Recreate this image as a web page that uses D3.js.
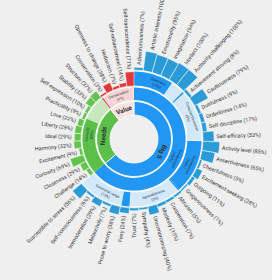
<!DOCTYPE html>
<html>
<head>
<meta charset="utf-8">
<script src="https://cdn.jsdelivr.net/npm/d3@7"></script>
<style>
html, body { margin: 0; padding: 0; background: #efefef; }
svg { display: block; font-family: Roboto, "Open Sans", sans-serif; }
</style>
</head>
<body>
<div id="chart"></div>
<script>
var sectors = ["Big 5", "Needs", "Value"];
var topItems = ["Extraversion", "Curiosity", "Conservation"];
var topPct = [100, 69, 3];

var traits = ["Openness", "Conscientiousness", "Extraversion", "Agreeableness", "Emotional range"];
var traitPct = [74, 3, 100, 3, 15];

var facets = [
    ["Adventurousness", "Artistic interests", "Emotionality", "Imagination", "Intellect", "Authority-challenging"],
    ["Achievement striving", "Cautiousness", "Dutifulness", "Orderliness", "Self-discipline", "Self-efficacy"],
    ["Activity level", "Assertiveness", "Cheerfulness", "Excitement-seeking", "Outgoing", "Gregariousness"],
    ["Altruism", "Cooperation", "Modesty", "Uncompromising", "Sympathy", "Trust"],
    ["Fiery", "Prone to worry", "Melancholy", "Immoderation", "Self-consciousness", "Susceptible to stress"]
];
var facetPct = [
    [7, 100, 95, 94, 100, 100],
    [8, 79, 9, 14, 17, 53],
    [85, 65, 5, 28, 11, 1],
    [5, 7, 10, 40, 4, 7],
    [24, 38, 7, 29, 6, 56]
];

var needs = ["Challenge", "Closeness", "Curiosity", "Excitement", "Harmony", "Ideal",
    "Liberty", "Love", "Practicality", "Self-expression", "Stability", "Structure"];
var needPct = [14, 29, 69, 9, 32, 29, 29, 22, 9, 10, 33, 37];

var values = ["Conservation", "Openness to change", "Hedonism", "Self-enhancement", "Self-transcendence"];
var valuePct = [3, 38, 7, 14, 71];

var width = 272,
    height = 280,
    cx = 134,
    cy = 139;

// ring radii by depth
var rIn = [0, 24, 38.5, 53, 69],
    rOut = [0, 37.5, 52, 68, 69];
var barMax = 18;

var palette = [
    { main: "#2196f3", light: "#d3e8f8", bar: "#2b9bd8", ring: "#2196f3" },
    { main: "#5cbf4a", light: "#c6e8bc", bar: "#64c24f", ring: "#5cbf4a" },
    { main: "#e2393c", light: "#f8d4d4", bar: "#e2393c", ring: "#fbe2e2" }
];

function leafList(names, pcts) {
    return names.map(function(n, i) {
        return { name: n, pct: pcts[i] };
    });
}

var tree = { name: "root", children: [
    { name: sectors[0], children: [{ name: topItems[0], pct: topPct[0],
        children: traits.map(function(t, i) {
            return { name: t, pct: traitPct[i], children: leafList(facets[i], facetPct[i]) };
        }) }] },
    { name: sectors[1], children: [{ name: topItems[1], pct: topPct[1], children: leafList(needs, needPct) }] },
    { name: sectors[2], children: [{ name: topItems[2], pct: topPct[2], children: leafList(values, valuePct) }] }
]};

var root = d3.hierarchy(tree).count();
d3.partition().size([2 * Math.PI, 1])(root);

root.each(function(d) {
    var s = d;
    while (s.depth > 1) s = s.parent;
    d.sector = root.children.indexOf(s);
});

var svg = d3.select("#chart").append("svg")
    .attr("width", width)
    .attr("height", height);

var g = svg.append("g").attr("transform", "translate(" + cx + "," + cy + ")");

var arc = d3.arc()
    .startAngle(function(d) { return d.a0; })
    .endAngle(function(d) { return d.a1; })
    .innerRadius(function(d) { return d.r0; })
    .outerRadius(function(d) { return d.r1; });

var nodes = root.descendants().filter(function(d) { return d.depth > 0; });
var inner = nodes.filter(function(d) { return d.children; });
var leaves = nodes.filter(function(d) { return !d.children; });

// ring backgrounds
g.selectAll("path.bg").data(inner).enter().append("path")
    .attr("class", "bg")
    .attr("d", function(d) {
        return arc({ a0: d.x0, a1: d.x1, r0: rIn[d.depth], r1: rOut[d.depth] });
    })
    .attr("fill", function(d) {
        return d.depth == 1 ? palette[d.sector].ring : palette[d.sector].light;
    })
    .attr("stroke", "#fff")
    .attr("stroke-width", 0.8);

// score part of each ring
g.selectAll("path.score").data(inner.filter(function(d) { return d.depth > 1; })).enter().append("path")
    .attr("class", "score")
    .attr("d", function(d) {
        return arc({ a0: d.x0, a1: d.x0 + (d.x1 - d.x0) * d.data.pct / 100, r0: rIn[d.depth] + 0.4, r1: rOut[d.depth] - 0.4 });
    })
    .attr("fill", function(d) { return palette[d.sector].main; });

// facet bars
function barEnd(d) {
    return rIn[d.depth] + 1.5 + barMax * d.data.pct / 100;
}

g.selectAll("path.bar").data(leaves).enter().append("path")
    .attr("class", "bar")
    .attr("d", function(d) {
        return arc({ a0: d.x0, a1: d.x1, r0: rIn[d.depth], r1: barEnd(d) });
    })
    .attr("fill", function(d) { return palette[d.sector].bar; })
    .attr("stroke", "#fff")
    .attr("stroke-width", 0.5);

// facet labels
g.selectAll("text.facet").data(leaves).enter().append("text")
    .attr("class", "facet")
    .attr("transform", function(d) {
        var a = (d.x0 + d.x1) / 2 * 180 / Math.PI;
        var r = barEnd(d) + 2.5;
        if (a < 180) return "rotate(" + (a - 90) + ")translate(" + r + ",0)";
        return "rotate(" + (a - 90) + ")translate(" + r + ",0)rotate(180)";
    })
    .attr("text-anchor", function(d) { return (d.x0 + d.x1) / 2 < Math.PI ? "start" : "end"; })
    .attr("dy", "0.35em")
    .attr("font-size", 5.4)
    .attr("fill", "#333")
    .text(function(d) { return d.data.name + " (" + d.data.pct + "%)"; });

// ring labels
var ringLabels = g.selectAll("g.rl").data(inner).enter().append("g")
    .attr("class", "rl")
    .attr("transform", function(d) {
        var a = (d.x0 + d.x1) / 2;
        var r = (rIn[d.depth] + rOut[d.depth]) / 2;
        var deg = a * 180 / Math.PI;
        var rot = (deg > 120 && deg < 240) ? deg - 180 : deg;
        return "translate(" + (r * Math.sin(a)) + "," + (-r * Math.cos(a)) + ")rotate(" + rot + ")";
    });

ringLabels.filter(function(d) { return d.depth == 1; }).append("text")
    .attr("text-anchor", "middle")
    .attr("dy", "0.35em")
    .attr("font-size", 6.5)
    .attr("font-weight", "bold")
    .attr("fill", "#333")
    .text(function(d) { return d.data.name; });

ringLabels.filter(function(d) { return d.depth > 1; }).each(function(d) {
    var t = d3.select(this).append("text")
        .attr("text-anchor", "middle")
        .attr("font-size", 3.6)
        .attr("fill", "#234");
    t.append("tspan").attr("x", 0).attr("dy", "-0.2em").text(d.data.name);
    t.append("tspan").attr("x", 0).attr("dy", "1.3em").text("(" + d.data.pct + "%)");
});
</script>
</body>
</html>
